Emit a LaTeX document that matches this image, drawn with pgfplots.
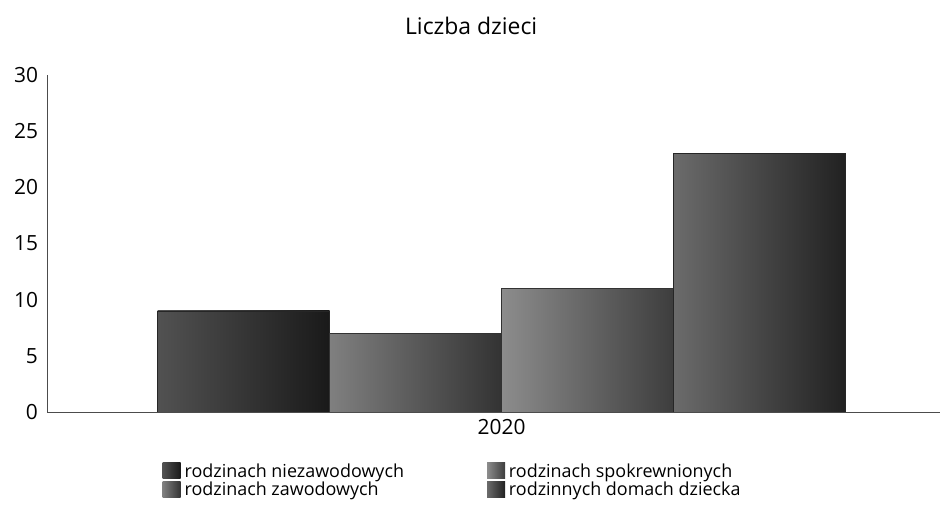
\documentclass[border=0pt]{standalone}
\usepackage{fontspec}
\setmainfont{Open Sans}
\usepackage{pgfplots}
\pgfplotsset{compat=1.18}
\begin{document}
\begin{tikzpicture}
\path[use as bounding box] (0,0) rectangle (472.5bp,257.5bp);
\begin{axis}[
  at={(23.5bp,51.5bp)}, anchor=south west,
  scale only axis, width=446.5bp, height=168.5bp,
  xmin=-1.018, xmax=0.982, ymin=0, ymax=30,
  axis x line=bottom, axis y line=left,
  axis line style={-, black!70, line width=0.5pt},
  ytick={0,5,...,30}, xtick={0}, xticklabels={2020},
  major tick length=0pt,
  ybar=0pt, bar width=86bp,
  tick label style={font=\fontsize{10.5}{12}\selectfont},
  yticklabel style={xshift=-1bp},
  /pgf/number format/assume math mode=true,
  title={Liczba dzieci},
  title style={font=\fontsize{11.5}{13}\selectfont, at={(0.475,1)}, anchor=base, yshift=14.5bp},
  legend columns=2, transpose legend,
  legend cell align=left,
  legend style={draw=none, fill=none, inner sep=0pt, at={(0.129,-0.14)}, anchor=north west,
    font=\fontsize{9}{10.5}\selectfont,
    /tikz/column 2/.style={column sep=39.5bp}, row sep=-3bp},
  legend image code/.code={\path[#1, draw=none] (0bp,-3.5bp) rectangle (9bp,4.5bp);},
]
\addplot[draw=black!85, line width=0.3pt, left color=black!68, right color=black!90] coordinates {(0,9)};
\addplot[draw=black!80, line width=0.3pt, left color=black!50, right color=black!80] coordinates {(0,7)};
\addplot[draw=black!80, line width=0.3pt, left color=black!45, right color=black!76] coordinates {(0,11)};
\addplot[draw=black!85, line width=0.3pt, left color=black!58, right color=black!87] coordinates {(0,23)};
\legend{rodzinach niezawodowych, rodzinach zawodowych, rodzinach spokrewnionych, rodzinnych domach dziecka}
\end{axis}
\end{tikzpicture}
\end{document}
